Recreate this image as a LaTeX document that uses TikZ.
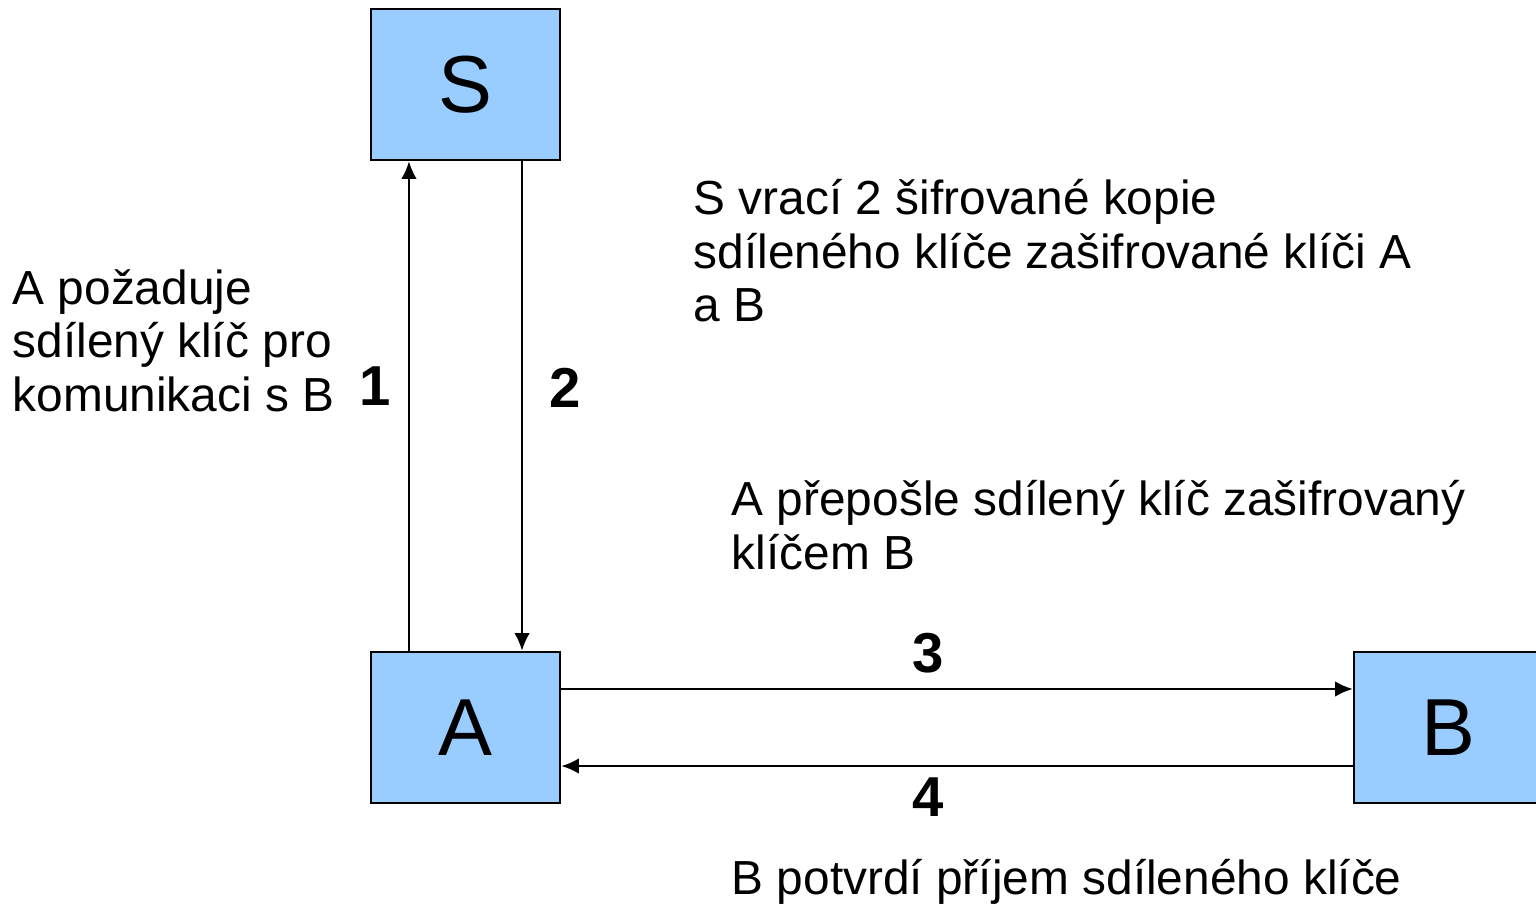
\documentclass[tikz,border=0pt]{standalone}
\usepackage{fontspec}
\setmainfont{Liberation Sans}
\usetikzlibrary{positioning}
\usetikzlibrary{arrows.meta}

\definecolor{partyblue}{HTML}{99CCFF}

\begin{document}
\begin{tikzpicture}[x=0.01cm,y=-0.01cm]
 \tikzset{party/.style={
 		draw, fill=partyblue, line width=0.7pt,
 		minimum width=1.89cm, minimum height=1.51cm,
 		inner sep=0pt,
 		font=\fontsize{23}{27}\selectfont
 	},
 	msg/.style={-{Latex[length=5pt,width=4.4pt]}, line width=0.6pt},
 	num/.style={font=\fontsize{16}{18}\selectfont\bfseries, inner sep=0pt},
 	note/.style={anchor=north west, align=left, inner sep=0pt,
 		font=\fontsize{13.6}{15.2}\selectfont}
 }
 \useasboundingbox (0,0) rectangle (1536,906);
 % the three parties
 \node[party] (S) at (465.5,84.5) {S};
 \node[party] (A) at (465.5,727.5) {A};
 \node[party] (B) at (1448.5,727.5) {B};
 % messages between them
 \draw[msg] ([xshift=-0.565cm]A.north) -- node[num, pos=0.54, xshift=-0.34cm] {1} ([xshift=-0.565cm]S.south);
 \draw[msg] ([xshift=0.565cm]S.south) -- node[num, pos=0.463, xshift=0.43cm] {2} ([xshift=0.565cm]A.north);
 \draw[msg] ([yshift=0.385cm]A.east) -- node[num, pos=0.463, yshift=0.36cm] {3} ([yshift=0.385cm]B.west);
 \draw[msg] ([yshift=-0.385cm]B.west) -- node[num, pos=0.537, yshift=-0.31cm] {4} ([yshift=-0.385cm]A.east);
 % descriptions
 \node[note] (req) at (12,269) {A požaduje\\sdílený klíč pro\\komunikaci s B};
 \node[note] (ret) at (693,179) {S vrací 2 šifrované kopie\\sdíleného klíče zašifrované klíči A\\a B};
 \node[note] (fwd) at (731,480) {A přepošle sdílený klíč zašifrovaný\\klíčem B};
 \node[note] (ack) at (731,859) {B potvrdí příjem sdíleného klíče};
\end{tikzpicture}
\end{document}
